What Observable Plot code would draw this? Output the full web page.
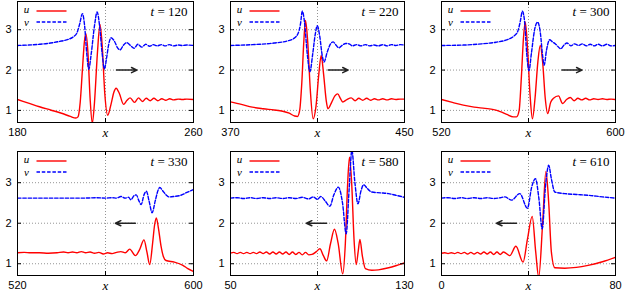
<!DOCTYPE html>
<html><head><meta charset="utf-8">
<script src="https://cdn.jsdelivr.net/npm/d3@7"></script>
<script src="https://cdn.jsdelivr.net/npm/@observablehq/plot@0.6"></script>
<style>
body{margin:0;background:#fff;}
#chart{position:relative;width:628px;height:293px;overflow:hidden;background:#fff;}
.panel{position:absolute;}
</style></head><body><div id="chart"></div>
<script>
// ---- data ----
const times = [120, 220, 300, 330, 580, 610];
const xDomains = [[180, 260], [370, 450], [520, 600], [520, 600], [50, 130], [0, 80]];
const yTicks = [1, 2, 3];
const arrowFrom = [225, 414.9, 575.4, 573.6, 94.2, 34.5];
const arrowTo = [234.3, 424.1, 584.6, 564.5, 84.9, 25.3];
const arrowY = [2, 2, 2, 2, 2, 2];

const u120 = [[180,1.27],[185,1.18],[190,1.09],[195,1.01],[200,0.93],[204,0.85],[206.5,0.81],[207.5,0.84],[208.5,1.2],[209.5,2.0],[210.4,2.7],[211.1,2.9],[212,2.45],[213,1.3],[214,0.68],[215,1.2],[216.3,2.4],[217.5,3.13],[218.5,2.6],[219.7,1.4],[221,0.88],[222.5,1.15],[223.8,1.45],[224.8,1.55],[226.3,1.42],[228.2,1.15],[229.8,1.25],[231.2,1.31],[233.2,1.2],[235,1.31],[236.8,1.22],[238.5,1.3],[240.3,1.24],[242,1.3],[243.8,1.24],[245.6,1.29],[247.4,1.25],[249.2,1.29],[251,1.26],[253,1.28],[255,1.27],[257,1.28],[260,1.27]];
const v120 = [[180,2.61],[185,2.62],[190,2.64],[195,2.67],[200,2.72],[203,2.76],[205.5,2.83],[207,2.92],[208.3,3.15],[209.5,3.4],[210.5,3.1],[211.5,2.4],[212.4,2.02],[213.5,2.4],[215,3.1],[216.2,3.44],[217.3,3.1],[218.5,2.4],[219.5,2.03],[220.5,2.3],[221.5,2.65],[222.5,2.8],[224,2.72],[225.5,2.55],[226.6,2.5],[228.2,2.62],[229.7,2.68],[231.5,2.6],[233,2.54],[234.7,2.64],[236.5,2.57],[238.3,2.64],[240,2.59],[241.8,2.63],[243.5,2.6],[245.4,2.63],[247.2,2.6],[249,2.63],[251,2.6],[253,2.62],[255,2.61],[257,2.62],[260,2.61]];

const u220 = [[370,1.21],[375,1.15],[380,1.08],[385,1.04],[390,1.01],[394,0.98],[397,0.93],[399.5,0.86],[400.8,0.85],[401.8,1.0],[402.8,1.7],[403.7,2.7],[404.5,3.23],[405.5,2.7],[406.7,1.5],[408,0.79],[409.3,1.1],[410.6,1.9],[411.7,2.36],[412.8,1.9],[414,1.25],[414.8,1.04],[416.5,1.2],[418,1.36],[419.3,1.41],[420.5,1.3],[421.6,1.21],[423.5,1.27],[425.5,1.31],[427.3,1.24],[429,1.3],[430.8,1.25],[432.6,1.3],[434.4,1.25],[436.2,1.29],[438,1.26],[440,1.29],[442,1.26],[444,1.29],[446,1.27],[448,1.28],[450,1.28]];
const v220 = [[370,2.61],[380,2.63],[390,2.67],[396,2.72],[399,2.78],[401,2.9],[402.2,3.15],[403,3.46],[404,3.2],[405.3,2.4],[406.5,1.96],[407.8,2.4],[409,2.9],[409.9,3.1],[411,2.85],[412.2,2.35],[413,2.2],[414.5,2.45],[416,2.65],[417.2,2.7],[418.5,2.62],[419.8,2.55],[421.5,2.62],[423,2.66],[424.5,2.65],[426,2.6],[428,2.63],[430,2.6],[432,2.63],[434,2.6],[436,2.62],[438,2.6],[440,2.63],[442,2.6],[444,2.63],[446,2.61],[448,2.63],[450,2.62]];

const u300 = [[520,1.27],[525,1.2],[530,1.13],[535,1.08],[540,1.05],[544,1.02],[547,0.97],[550,0.9],[553,0.84],[554.5,0.84],[555.7,1.0],[556.7,1.8],[557.7,2.8],[558.5,3.19],[559.5,2.6],[560.7,1.4],[561.8,0.79],[563,1.3],[564.3,2.2],[565.4,2.61],[566.5,2.2],[567.7,1.3],[568.8,0.92],[570.2,1.2],[571.5,1.3],[573.8,1.36],[575.7,1.17],[577.5,1.27],[579.2,1.32],[581,1.24],[582.7,1.3],[584.5,1.26],[586.3,1.3],[588.1,1.26],[590,1.29],[592,1.27],[594,1.29],[596,1.27],[598,1.28],[600,1.27]];
const v300 = [[520,2.61],[530,2.62],[538.5,2.65],[545,2.69],[550,2.75],[553,2.83],[555,2.95],[556.2,3.2],[557.2,3.46],[558.2,3.2],[559.2,2.4],[560.2,1.98],[561.3,2.4],[562.8,3.0],[564.2,3.19],[565.5,2.9],[566.5,2.35],[567.2,2.12],[568.3,2.5],[569.7,2.75],[571,2.7],[572.5,2.64],[574.9,2.53],[576.3,2.62],[577.7,2.67],[579.5,2.6],[581.2,2.65],[583,2.61],[584.8,2.65],[586.6,2.6],[588.4,2.64],[590.2,2.6],[592,2.64],[594,2.6],[596,2.64],[598,2.6],[600,2.61]];

const u330 = [[520,1.27],[523,1.28],[526,1.27],[530,1.27],[534,1.26],[538,1.27],[541,1.29],[543,1.27],[545,1.29],[547,1.27],[549,1.3],[551,1.27],[553,1.29],[555,1.26],[557,1.28],[559,1.24],[561,1.27],[563,1.25],[565,1.28],[567,1.3],[569,1.27],[571,1.36],[573.6,1.2],[575.5,1.35],[577.5,1.59],[578.8,1.3],[580.1,0.98],[581.4,1.5],[582.3,1.95],[583.1,2.13],[584,1.9],[585.2,1.45],[586.3,1.18],[587.5,1.08],[591.3,1.04],[595.2,0.96],[597.4,0.88],[600,0.81]];
const v330 = [[520,2.62],[530,2.62],[540,2.62],[550,2.62],[556,2.63],[560,2.62],[563,2.63],[565,2.62],[567,2.66],[569,2.62],[570.5,2.64],[571.5,2.58],[573,2.68],[574,2.7],[575.2,2.55],[576.2,2.46],[577.5,2.7],[578.6,2.79],[579.8,2.55],[581.2,2.26],[582.6,2.55],[584,2.83],[584.7,2.88],[586,2.8],[587.5,2.7],[588.8,2.65],[591,2.66],[594.2,2.69],[597,2.76],[600,2.83]];

const u580 = [[50,1.26],[51.5,1.28],[53,1.25],[54.5,1.28],[56,1.25],[57.5,1.28],[59,1.25],[60.5,1.28],[62,1.25],[63.5,1.29],[65,1.25],[66.5,1.29],[68,1.24],[69.5,1.29],[71,1.24],[72.5,1.29],[74,1.24],[75.5,1.29],[77,1.23],[78.5,1.29],[80,1.23],[81.5,1.28],[83,1.22],[84.5,1.28],[86,1.22],[87.5,1.23],[89.5,1.3],[91.1,1.37],[92.7,1.2],[94.2,1.07],[96,1.5],[97.8,1.85],[99.5,1.5],[101.6,0.75],[102.8,1.5],[103.8,2.9],[104.7,3.63],[105.7,3.0],[106.8,1.6],[107.8,0.98],[108.7,1.3],[109.5,1.6],[110.6,1.2],[112,0.88],[115,0.84],[118,0.85],[122.7,0.9],[126,0.95],[130,1.02]];
const v580 = [[50,2.62],[53,2.63],[56,2.61],[59,2.63],[62,2.61],[65,2.63],[68,2.61],[71,2.63],[74,2.61],[77,2.63],[80,2.61],[83,2.64],[86,2.6],[88,2.65],[90,2.59],[91.5,2.66],[93.5,2.55],[95.7,2.42],[97.5,2.7],[99.6,2.89],[101.5,2.5],[103.2,1.74],[104.5,2.8],[105.8,3.8],[107.2,3.0],[108.6,2.48],[110,2.8],[111.2,2.95],[113,2.85],[115,2.77],[119,2.75],[122.7,2.73],[126,2.69],[130,2.64]];

const u610 = [[0,1.26],[1.5,1.27],[3,1.25],[4.5,1.27],[6,1.25],[7.5,1.28],[9,1.25],[10.5,1.28],[12,1.24],[13.5,1.28],[15,1.24],[16.5,1.28],[18,1.24],[19.5,1.29],[21,1.24],[22.5,1.29],[24,1.23],[25.5,1.29],[27,1.23],[28.5,1.29],[31.4,1.2],[34.2,1.43],[37.5,1.04],[39.5,1.6],[41.7,2.17],[43.3,1.3],[44.7,0.67],[46.5,2.0],[48,3.28],[49.3,2.5],[50.5,1.3],[52.1,0.9],[56.7,0.89],[62,0.91],[67.4,0.96],[74,1.05],[80,1.16]];
const v610 = [[0,2.62],[3,2.63],[6,2.61],[9,2.63],[12,2.61],[15,2.63],[18,2.61],[21,2.63],[24,2.61],[27,2.63],[29.1,2.65],[32.2,2.57],[36,2.73],[39.5,2.37],[41.5,2.9],[43.2,3.1],[44.8,2.6],[46.3,1.86],[47.8,2.9],[49.3,3.43],[50.5,3.1],[52.1,2.77],[56.7,2.73],[62,2.71],[67.4,2.69],[74,2.65],[80,2.62]];

const uSeries = [u120, u220, u300, u330, u580, u610];
const vSeries = [v120, v220, v300, v330, v580, v610];

// ---- layout ----
const cols = [{left:0, w:205, mL:17, mR:12}, {left:205, w:210, mL:25, mR:11}, {left:415, w:213, mL:26, mR:13}];
const rows = [{top:0, h:146, mT:1, mB:24, yd:[0.70, 3.70]}, {top:146, h:147, mT:5, mB:18, yd:[0.71, 3.77]}];

const chart = document.getElementById("chart");
const serif = "'Liberation Serif', 'DejaVu Serif', serif";

times.forEach((t, i) => {
  const c = cols[i % 3], r = rows[Math.floor(i / 3)];
  const dom = xDomains[i];
  const mid = (dom[0] + dom[1]) / 2;
  const pw = c.w - c.mL - c.mR, ph = r.h - r.mT - r.mB;
  const arrow = [{x1: arrowFrom[i], x2: arrowTo[i], y: arrowY[i]}];
  const svg = Plot.plot({
    width: c.w, height: r.h,
    marginLeft: c.mL, marginRight: c.mR, marginTop: r.mT, marginBottom: r.mB,
    x: {domain: dom}, y: {domain: r.yd},
    style: {fontFamily: "'Liberation Sans', Arial, sans-serif", fontSize: "11px", color: "#000", background: "transparent", overflow: "visible"},
    marks: [
      Plot.gridY(yTicks, {stroke: "#888", strokeOpacity: 1, strokeWidth: 0.9, strokeDasharray: "1,2"}),
      Plot.gridX([mid], {stroke: "#888", strokeOpacity: 1, strokeWidth: 0.9, strokeDasharray: "1,2"}),
      Plot.line(uSeries[i], {stroke: "#ff0000", strokeWidth: 1.4, curve: "monotone-x", clip: true}),
      Plot.line(vSeries[i], {stroke: "#0000ff", strokeWidth: 1.4, strokeDasharray: "3.5,1.8", curve: "monotone-x", clip: true}),
      Plot.arrow(arrow, {x1: "x1", x2: "x2", y1: "y", y2: "y", stroke: "#222", strokeWidth: 1.5, headLength: 6, headAngle: 50}),
      Plot.tickY(yTicks, {y: d => d, insetRight: pw - 4, stroke: "#000"}),
      Plot.tickY(yTicks, {y: d => d, insetLeft: pw - 4, stroke: "#000"}),
      Plot.tickX([mid], {x: d => d, insetBottom: ph - 4, stroke: "#000"}),
      Plot.tickX([mid], {x: d => d, insetTop: ph - 4, stroke: "#000"}),
      Plot.axisY({ticks: yTicks, tickFormat: d => String(d), tickSize: 0, tickPadding: 6, label: null, anchor: "left"}),
      Plot.axisX({ticks: dom, tickFormat: d => String(d), tickSize: 0, tickPadding: 6, label: null, anchor: "bottom"}),
      Plot.text(["x"], {x: [mid], frameAnchor: "bottom", lineAnchor: "top", dy: 5, text: d => d, fontStyle: "italic", fontFamily: serif, fontSize: 13}),
      Plot.frame({stroke: "#000", strokeWidth: 1})
    ]
  });
  const div = document.createElement("div");
  div.className = "panel";
  div.style.left = c.left + "px";
  div.style.top = r.top + "px";
  div.appendChild(svg);
  chart.appendChild(div);

  const g = d3.select(svg).append("g").attr("font-family", serif);
  const fx = c.mL + 0.5, fy = r.mT + 0.5;
  g.append("text").attr("x", fx + 9).attr("y", fy + 11.5).attr("font-size", 11).attr("font-style", "italic").text("u");
  g.append("line").attr("x1", fx + 19).attr("x2", fx + 49).attr("y1", fy + 9.5).attr("y2", fy + 9.5).attr("stroke", "#ff0000").attr("stroke-width", 1.4);
  g.append("text").attr("x", fx + 9).attr("y", fy + 24).attr("font-size", 11).attr("font-style", "italic").text("v");
  g.append("line").attr("x1", fx + 19).attr("x2", fx + 49).attr("y1", fy + 20.5).attr("y2", fy + 20.5).attr("stroke", "#0000ff").attr("stroke-width", 1.4).attr("stroke-dasharray", "3.5,1.8");
  const tt = g.append("text").attr("x", fx + pw - 6).attr("y", fy + 14.5).attr("font-size", 13).attr("text-anchor", "end");
  tt.append("tspan").attr("font-style", "italic").text("t");
  tt.append("tspan").text(" = " + t);
});
</script>
</body></html>
